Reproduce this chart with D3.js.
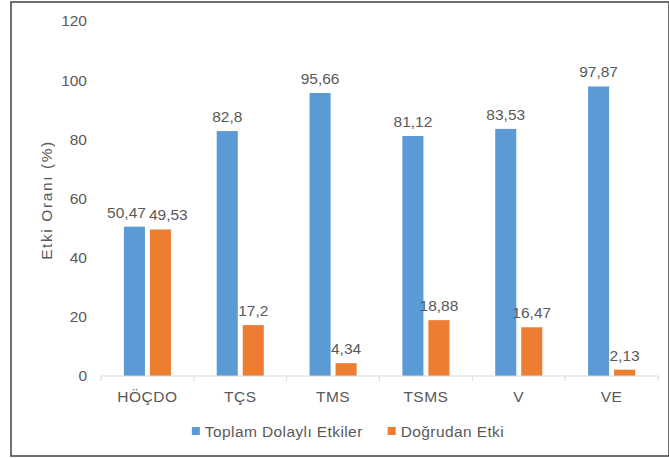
<!DOCTYPE html>
<html>
<head>
<meta charset="utf-8">
<script src="https://cdn.jsdelivr.net/npm/d3@7"></script>
<style>
  body { margin: 0; background: #fff; }
  text { font-family: "Liberation Sans", Arial, sans-serif; fill: #595959; }
</style>
</head>
<body>
<div class="chart"></div>
<script>
var categories = ['HÖÇDO', 'TÇS', 'TMS', 'TSMS', 'V', 'VE'];
var seriesNames = ['Toplam Dolaylı Etkiler', 'Doğrudan Etki'];
var totalIndirect = [50.47, 82.8, 95.66, 81.12, 83.53, 97.87];
var direct = [49.53, 17.2, 4.34, 18.88, 16.47, 2.13];
var yTicks = [0, 20, 40, 60, 80, 100, 120];
var colors = ['#5B9BD5', '#ED7D31'];

var W = 669, H = 458;
var plot = {left: 101, right: 658, top: 21, bottom: 376};

var fmt = function(v) { return String(v).replace('.', ','); };

var data = categories.map(function(c, i) {
  return {cat: c, values: [totalIndirect[i], direct[i]]};
});

var svg = d3.select('div.chart').append('svg')
    .attr('width', W)
    .attr('height', H);

// outer frame
svg.append('rect')
    .attr('x', 11).attr('y', 2)
    .attr('width', 658).attr('height', 454)
    .attr('fill', 'none')
    .attr('stroke', '#404040')
    .attr('stroke-width', 1.5);

var x0 = d3.scaleBand()
    .domain(categories)
    .range([plot.left, plot.right]);
var x1 = d3.scaleBand()
    .domain([0, 1])
    .range([0, x0.bandwidth()])
    .paddingInner(0.19)
    .paddingOuter(0.88);
var y = d3.scaleLinear()
    .domain([0, 120])
    .range([plot.bottom, plot.top]);

// y tick labels (no axis line)
svg.append('g')
    .attr('transform', 'translate(' + plot.left + ',0)')
    .call(d3.axisLeft(y).tickValues(yTicks).tickSize(0).tickPadding(14))
    .call(function(g) { g.select('.domain').remove(); })
    .selectAll('text')
      .attr('font-size', '15.5px')
      .attr('font-family', '"Liberation Sans", Arial, sans-serif')
      .style('fill', '#595959');

svg.append('text')
    .attr('text-anchor', 'middle')
    .attr('transform', 'translate(52,200) rotate(-90)')
    .attr('font-size', '15.5px')
    .attr('letter-spacing', '1.6px')
    .text('Etki Oranı (%)');

// bars
var groups = svg.selectAll('g.cat')
    .data(data).enter().append('g')
      .attr('class', 'cat')
      .attr('transform', d => 'translate(' + x0(d.cat) + ',0)');

groups.selectAll('rect')
    .data(d => d.values.map((v, k) => ({k: k, v: v})))
    .enter().append('rect')
      .attr('x', d => x1(d.k))
      .attr('width', x1.bandwidth())
      .attr('y', d => y(d.v))
      .attr('height', d => y(0) - y(d.v))
      .attr('fill', d => colors[d.k]);

groups.each(function(d) {
  var g = d3.select(this);
  var labels = d.values.map(function(v, k) {
    return g.append('text')
        .attr('text-anchor', 'middle')
        .attr('font-size', '15.5px')
        .attr('x', x1(k) + x1.bandwidth() / 2)
        .attr('y', y(v) - 9)
        .text(fmt(v));
  });
  // push apart labels that collide
  var a = labels[0].node().getBBox(), b = labels[1].node().getBBox();
  if (a.x + a.width + 3 > b.x && Math.abs(a.y - b.y) < a.height) {
    var shift = (a.x + a.width + 3 - b.x) / 2;
    labels[0].attr('x', +labels[0].attr('x') - shift);
    labels[1].attr('x', +labels[1].attr('x') + shift);
  }
});

// x axis line and ticks between categories
svg.append('line')
    .attr('x1', plot.left).attr('x2', plot.right)
    .attr('y1', plot.bottom).attr('y2', plot.bottom)
    .attr('stroke', '#d9d9d9');
var bounds = categories.map(c => x0(c)).concat([plot.right]);
svg.selectAll('line.tick')
    .data(bounds).enter().append('line')
      .attr('class', 'tick')
      .attr('x1', d => d).attr('x2', d => d)
      .attr('y1', plot.bottom).attr('y2', plot.bottom + 5)
      .attr('stroke', '#d9d9d9');

svg.selectAll('text.cat')
    .data(categories).enter().append('text')
      .attr('class', 'cat')
      .attr('text-anchor', 'middle')
      .attr('font-size', '15.5px')
      .attr('letter-spacing', '0.5px')
      .attr('x', d => x0(d) + x0.bandwidth() / 2)
      .attr('y', 401.5)
      .text(d => d);

// legend
var legend = svg.append('g');
var lx = 0;
seriesNames.forEach(function(name, k) {
  var item = legend.append('g').attr('transform', 'translate(' + lx + ',0)');
  item.append('rect')
      .attr('x', 0).attr('y', -4)
      .attr('width', 8).attr('height', 8)
      .attr('fill', colors[k]);
  var t = item.append('text')
      .attr('x', 13).attr('y', 5.5)
      .attr('font-size', '15.5px')
      .attr('letter-spacing', '0.4px')
      .text(name);
  lx += 13 + t.node().getComputedTextLength() + 25;
});
var lw = legend.node().getBBox().width;
legend.attr('transform', 'translate(' + (348 - lw / 2) + ',431)');
</script>
</body>
</html>
